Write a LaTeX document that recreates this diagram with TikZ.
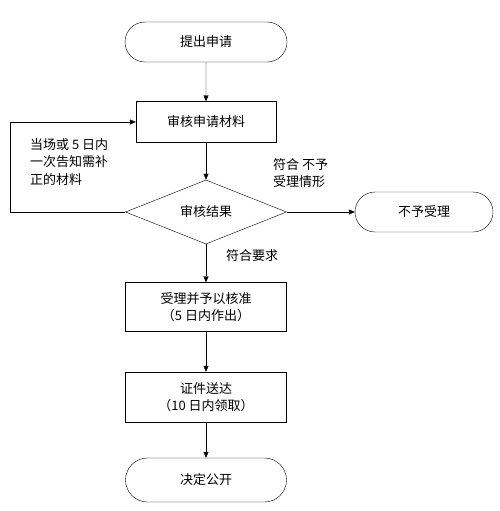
\documentclass[tikz,border=0pt]{standalone}
\usepackage{fontspec}
\setmainfont{Noto Sans CJK SC}
\usetikzlibrary{positioning}
\usetikzlibrary{shapes.geometric}
\usetikzlibrary{shapes.misc}
\usetikzlibrary{arrows.meta}

\begin{document}
\begin{tikzpicture}[
  x=1pt, y=-1pt,
  font=\fontsize{13}{17.5}\selectfont,
  flow/.style={draw=black,-{Triangle[length=6pt,width=5pt]}},
  term/.style={draw=black,rounded rectangle,minimum height=40pt,inner sep=0pt},
  proc/.style={draw=black,rectangle,minimum width=161pt,align=center,inner sep=0pt},
  decide/.style={draw=black,diamond,minimum width=161pt,minimum height=60pt,inner sep=0pt},
  note/.style={anchor=north west,align=left,inner sep=0pt}
]
  \useasboundingbox (0,0) rectangle (499,511);

  \node[term, minimum width=162pt] (apply) at (206, 42) {提出申请};
  \node[proc, minimum width=140pt, minimum height=41pt] (check) at (206, 122) {审核申请材料};
  \node[decide] (result) at (206, 212) {审核结果};
  \node[term, minimum width=138pt] (reject) at (424, 212) {不予受理};
  \node[proc, minimum height=49pt] (accept) at (206, 307) {受理并予以核准\\（5 日内作出）};
  \node[proc, minimum height=50pt] (deliver) at (206, 397) {证件送达\\（10 日内领取）};
  \node[term, minimum width=161pt, minimum height=44pt] (publish) at (206, 480) {决定公开};

  \node[note] (supply) at (30, 138) {当场或 5 日内\\一次告知需补\\正的材料};
  \node[note] (refuse) at (273, 158) {符合 不予\\受理情形};
  \node (meet) at (252, 256) {符合要求};

  \coordinate (loop) at (10, 212);

  \draw[flow] (apply) -- (check);
  \draw[flow] (check) -- (result);
  \draw[flow] (result.east) -- (reject.west);
  \draw[flow] (result.south) -- (accept.north);
  \draw[flow] (accept) -- (deliver);
  \draw[flow] (deliver) -- (publish);
  \draw[flow] (result.west) -- (loop) |- (check.west);
\end{tikzpicture}
\end{document}
